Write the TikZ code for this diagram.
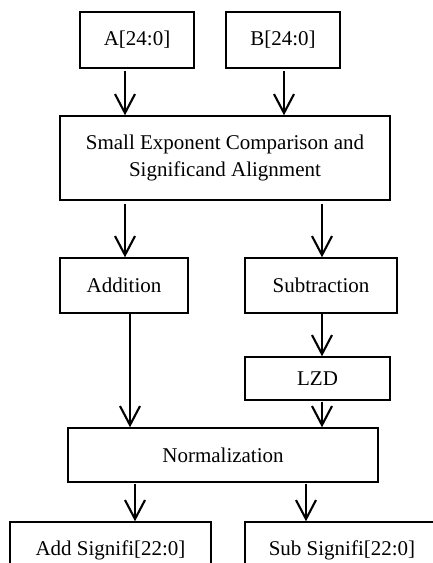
\documentclass[tikz,border=0pt]{standalone}
\usepackage{fontspec}
\setmainfont{Liberation Serif}
\usetikzlibrary{arrows.meta}
\begin{document}
\begin{tikzpicture}[x=1pt,y=-1pt,
  blk/.style={draw,line width=1.4pt,inner sep=0pt,align=center,font=\fontsize{21}{27}\selectfont},
  arr/.style={line width=2.1pt,-{Straight Barb[length=19pt,width=20pt,line width=2.1pt]}}]
\clip (0,0) rectangle (433,563);
\fill[white] (0,0) rectangle (433,563);
\node[blk,minimum width=114pt,minimum height=56pt] (a) at (137,40) {A[24:0]};
\node[blk,minimum width=114pt,minimum height=56pt] (b) at (283,40) {B[24:0]};
\node[blk,minimum width=330pt,minimum height=84pt] (sec) at (225,158) {Small Exponent Comparison and\\Significand Alignment};
\node[blk,minimum width=128pt,minimum height=55pt] (add) at (124,285.5) {Addition};
\node[blk,minimum width=152pt,minimum height=55pt] (sub) at (321,285.5) {Subtraction};
\node[blk,minimum width=145pt,minimum height=43pt] (lzd) at (317.5,378.5) {LZD};
\node[blk,minimum width=310pt,minimum height=54pt] (norm) at (223,455) {Normalization};
\node[blk,minimum width=201pt,minimum height=56pt] (adds) at (110.5,550) {Add Signifi[22:0]};
\node[blk,minimum width=194pt,minimum height=56pt] (subs) at (342,550) {Sub Signifi[22:0]};
\draw[arr] (a.south -| 125,0) ++(0,2) -- (sec.north -| 125,0);
\draw[arr] (b.south -| 284,0) ++(0,2) -- (sec.north -| 284,0);
\draw[arr] (sec.south -| 125,0) ++(0,3) -- (add.north -| 125,0);
\draw[arr] (sec.south -| 322,0) ++(0,3) -- (sub.north -| 322,0);
\draw[arr] (add.south -| 130,0) -- (norm.north -| 130,0);
\draw[arr] (sub.south -| 322,0) -- (lzd.north -| 322,0);
\draw[arr] (lzd.south -| 322,0) ++(0,1) -- (norm.north -| 322,0);
\draw[arr] (norm.south -| 135,0) ++(0,1) -- (adds.north -| 135,0);
\draw[arr] (norm.south -| 306,0) ++(0,1) -- (subs.north -| 306,0);
\end{tikzpicture}
\end{document}
